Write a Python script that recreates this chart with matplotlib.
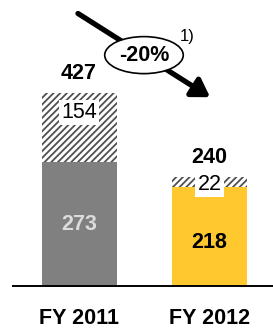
import matplotlib
matplotlib.use("Agg")
import matplotlib.pyplot as plt

years = ["FY 2011", "FY 2012"]
base = [273, 218]
extra = [154, 22]
totals = [427, 240]
change = "-20%"
note = "1)"

plt.rcParams['font.family'] = ['Liberation Sans', 'DejaVu Sans']
plt.rcParams['hatch.linewidth'] = 1.3
plt.rcParams['hatch.color'] = '#505050'

fig = plt.figure(figsize=(2.73, 3.29), dpi=100)
ax = fig.add_axes([13/273, 43/329, 260/273, 286/329])
ax.set_xlim(-0.506, 1.487)
ax.set_ylim(0, 286/0.4527)

x = [0, 1]
colors = ["#808080", "#FFC82E"]
ax.bar(x, base, width=0.575, color=colors, linewidth=0)
ax.bar(x, extra, bottom=base, width=0.575, color="white", hatch="/////",
       edgecolor="#505050", linewidth=0)

# labels
base_colors = ["#dcdcdc", "black"]
base_y = [0.5, 0.44]
for i in range(2):
    ax.text(x[i], base[i]*base_y[i], str(base[i]), ha="center", va="center",
            fontsize=15.5, fontweight="bold", color=base_colors[i])
    ax.text(x[i], totals[i] + 20, str(totals[i]), ha="center", va="bottom",
            fontsize=15.5, fontweight="bold")
ax.text(x[0], base[0] + extra[0]*0.72, str(extra[0]), ha="center", va="center",
        fontsize=15.5, bbox=dict(boxstyle="square,pad=0.1", fc="white", ec="none"))
ax.text(x[1], base[1] + extra[1]*0.3, str(extra[1]), ha="center", va="center",
        fontsize=15.5, bbox=dict(boxstyle="square,pad=0.1", fc="white", ec="none"))

# arrow and change bubble
ax.annotate("", xy=(1.005, 417), xytext=(-0.008, 602),
            arrowprops=dict(arrowstyle="-|>,head_length=0.8,head_width=0.5",
                            lw=3.8, color="black", shrinkA=0, shrinkB=0,
                            mutation_scale=13))
ax.text(0.498, 510, change, ha="center", va="center", fontsize=15.5,
        fontweight="bold", zorder=5,
        bbox=dict(boxstyle="ellipse,pad=0.12", fc="white", ec="black", lw=1.2))
ax.text(0.83, 552, note, ha="center", va="center", fontsize=12)

ax.set_xticks(x)
ax.set_xticklabels(years, fontsize=15.5, fontweight="bold")
ax.tick_params(axis="x", length=0, pad=16)
ax.set_yticks([])
for s in ["top", "left", "right"]:
    ax.spines[s].set_visible(False)
ax.spines["bottom"].set_linewidth(1.4)

fig.savefig("out.png", dpi=100)
